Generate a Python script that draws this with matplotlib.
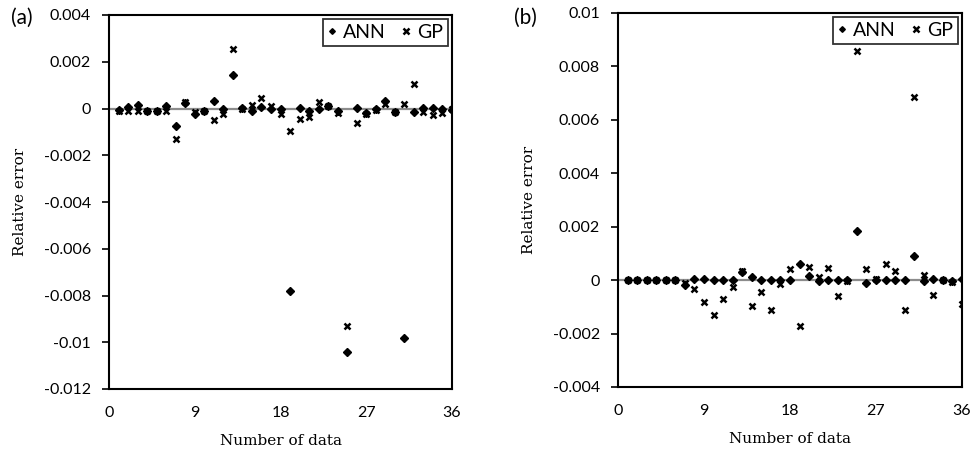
import numpy as np
import matplotlib.pyplot as plt

# data
n_data = np.arange(1, 37)

ann_a = [-0.00005, 0.00007, 0.00013, -0.0001, -0.0001, 0.0001, -0.00076, 0.00025, -0.00024,
         -0.0001, 0.00033, 0.0, 0.00144, 0.00003, -0.0001, 0.00007, -0.00004, 0.0,
         -0.0078, 0.00004, -0.0001, -0.00004, 0.0001, -0.0001, -0.0104, 0.00004, -0.0002,
         0.0, 0.00033, -0.00015, -0.0098, -0.00017, 0.00004, 0.00003, 0.0, -0.00005]
gp_a = [-0.0001, -0.0001, -0.0001, -0.0001, -0.0001, -0.0001, -0.00129, 0.00027, -0.00014,
        -0.0001, -0.0005, -0.00024, 0.00256, -0.00004, 0.00013, 0.00047, 0.0001, -0.00024,
        -0.00096, -0.00047, -0.00036, 0.00027, 0.0001, -0.00021, -0.0093, -0.00064, -0.00024,
        -0.00007, 0.00019, -0.00016, 0.00021, 0.00104, -0.00014, -0.00029, -0.00021, -0.00004]

ann_b = [0.0, 0.0, 0.0, 0.0, 0.0, 0.0, -0.0002, 0.00004, 0.00004,
         -0.00001, 0.0, 0.0, 0.0003, 0.0001, 0.0, -0.00001, 0.0, 0.0,
         0.00061, 0.00014, -0.00003, -0.00001, 0.0, 0.0, 0.00185, -0.00009, 0.0,
         -0.00001, 0.0, -0.00001, 0.0009, -0.00003, 0.00004, 0.0, -0.00005, 0.00005]
gp_b = [0.0, 0.0, 0.0, 0.0, 0.0, 0.0, -0.0001, -0.00034, -0.0008,
        -0.0013, -0.00069, -0.00026, 0.00035, -0.00098, -0.00044, -0.0011, -0.00015, 0.0004,
        -0.0017, 0.00048, 0.0001, 0.00045, -0.0006, -0.00003, 0.00856, 0.0004, 0.00004,
        0.00059, 0.00035, -0.0011, 0.00685, 0.0002, -0.00056, 0.0, -0.00008, -0.00091]

x_ticks = [0, 9, 18, 27, 36]
y_ticks_a = [0.004, 0.002, 0, -0.002, -0.004, -0.006, -0.008, -0.01, -0.012]
y_labels_a = ["0.004", "0.002", "0", "-0.002", "-0.004", "-0.006", "-0.008", "-0.01", "-0.012"]
y_ticks_b = [0.01, 0.008, 0.006, 0.004, 0.002, 0, -0.002, -0.004]
y_labels_b = ["0.01", "0.008", "0.006", "0.004", "0.002", "0", "-0.002", "-0.004"]

W, H = 971, 451
fig = plt.figure(figsize=(W / 100, H / 100), dpi=100)


def make_panel(rect, ann, gp, yticks, ylabels, tag, tag_x):
    ax = fig.add_axes(rect)
    ax.axhline(0, color="#8c8c8c", lw=1.6, zorder=1)
    ax.plot(n_data, ann, ls="none", marker="D", ms=3.6, color="black", label="ANN", zorder=3)
    ax.plot(n_data, gp, ls="none", marker="x", ms=4.6, mew=1.8, color="black", label="GP", zorder=3)

    ax.set_xlim(0, 36)
    ax.set_ylim(min(yticks), max(yticks))
    ax.set_xticks(x_ticks)
    ax.set_yticks(yticks)
    ax.set_yticklabels(ylabels)
    for lab in ax.get_xticklabels() + ax.get_yticklabels():
        lab.set_fontfamily("Lato")
        lab.set_fontsize(11.5)
    ax.tick_params(axis="x", length=0, pad=12)
    ax.tick_params(axis="y", length=5, width=1.2, pad=8)
    for sp in ax.spines.values():
        sp.set_linewidth(1.5)

    ax.set_xlabel("Number of data", family="DejaVu Serif", fontsize=11, labelpad=10)
    ax.set_ylabel("Relative error", family="DejaVu Serif", fontsize=11, labelpad=12)

    leg = ax.legend(loc="upper right", ncol=2, frameon=True, fancybox=False,
                    handlelength=0.4, handletextpad=0.4, columnspacing=0.8,
                    borderpad=0.25, borderaxespad=0.2, markerscale=0.8,
                    prop={"family": "Lato", "size": 14})
    leg.get_frame().set_edgecolor("black")
    leg.get_frame().set_linewidth(1.3)

    fig.text(tag_x, 1 - 18 / H, tag, family="Lato", fontsize=15, va="center", ha="left")
    return ax


make_panel([109 / W, (H - 389) / H, 343 / W, 374 / H], ann_a, gp_a, y_ticks_a, y_labels_a, "(a)", 11 / W)
make_panel([618 / W, (H - 387) / H, 344 / W, 374 / H], ann_b, gp_b, y_ticks_b, y_labels_b, "(b)", 514 / W)

fig.savefig("out.png", dpi=100)
